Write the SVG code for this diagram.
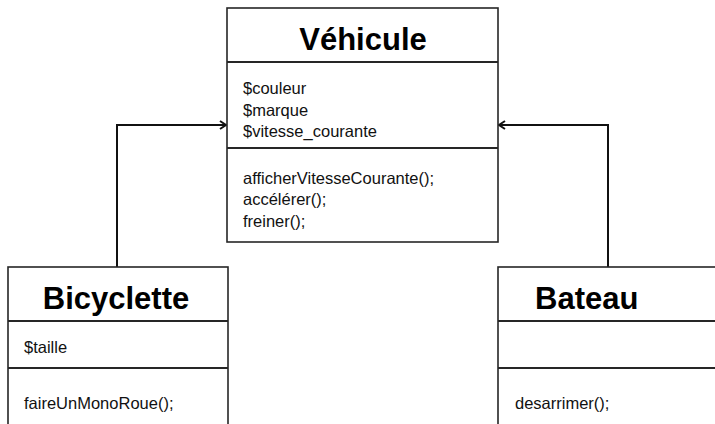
<svg xmlns="http://www.w3.org/2000/svg" width="715" height="424" viewBox="0 0 715 424">
<defs>
<style>
.box{fill:#fff;stroke:#262626;stroke-width:1.6}
.div{stroke:#262626;stroke-width:2}
.title{font-family:"Liberation Sans",Arial,sans-serif;font-weight:bold;font-size:31px;fill:#000}
.txt{font-family:"Liberation Sans",Arial,sans-serif;font-size:16.5px;fill:#111}
.conn{fill:none;stroke:#111;stroke-width:2}
</style>
<marker id="arr" markerWidth="10" markerHeight="10" refX="8" refY="5" orient="auto" markerUnits="userSpaceOnUse">
<path d="M2,1 L8,5 L2,9" fill="none" stroke="#111" stroke-width="2"/>
</marker>
</defs>
<rect width="715" height="424" fill="#fff"/>
<g id="connectors">
<path class="conn" d="M117,267 V125 H226" marker-end="url(#arr)"/>
<path class="conn" d="M608,267 V125 H499" marker-end="url(#arr)"/>
</g>
<g id="vehicule">
<rect class="box" x="227" y="8" width="271" height="234"/>
<line class="div" x1="227" y1="62" x2="498" y2="62"/>
<line class="div" x1="227" y1="148" x2="498" y2="148"/>
<text class="title" x="363" y="50" text-anchor="middle">Véhicule</text>
<text class="txt" x="243" y="94">$couleur</text>
<text class="txt" x="243" y="115.5">$marque</text>
<text class="txt" x="243" y="137">$vitesse_courante</text>
<text class="txt" x="243" y="183.5">afficherVitesseCourante();</text>
<text class="txt" x="243" y="205">accélérer();</text>
<text class="txt" x="243" y="226.5">freiner();</text>
</g>
<g id="bicyclette">
<rect class="box" x="8" y="267" width="220" height="180"/>
<line class="div" x1="8" y1="321" x2="228" y2="321"/>
<line class="div" x1="8" y1="368" x2="228" y2="368"/>
<text class="title" x="116" y="309" text-anchor="middle">Bicyclette</text>
<text class="txt" x="24" y="353">$taille</text>
<text class="txt" x="24" y="409">faireUnMonoRoue();</text>
</g>
<g id="bateau">
<rect class="box" x="498" y="267" width="240" height="180"/>
<line class="div" x1="498" y1="321" x2="738" y2="321"/>
<line class="div" x1="498" y1="368" x2="738" y2="368"/>
<text class="title" x="535" y="309">Bateau</text>
<text class="txt" x="515" y="409">desarrimer();</text>
</g>
</svg>
